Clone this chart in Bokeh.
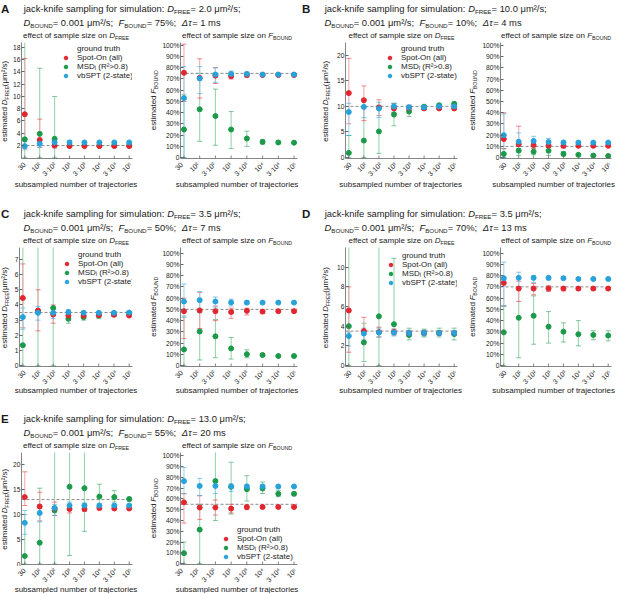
import math
from bokeh.plotting import figure
from bokeh.models import Range1d, FixedTicker, Span, Legend, LegendItem
from bokeh.layouts import row, column
from bokeh.embed import file_html
from bokeh.resources import INLINE
from bokeh.core.properties import value

FONT = "Liberation Sans"

# ---------------- data ----------------
CATS = ["30", "10²", "3·10²", "10³", "3·10³", "10⁴", "3·10⁴", "10⁵"]
XS = list(range(len(CATS)))

PANELS = ["A", "B", "C", "D", "E"]
D_FREE_TRUE = [2.0, 10.0, 3.5, 3.5, 13.0]
D_FREE_TXT = ["2.0", "10.0", "3.5", "3.5", "13.0"]
F_BOUND_TRUE = [75, 10, 50, 70, 55]
DT_MS = [1, 4, 7, 13, 20]

D_TICKS = {"A": [2, 4, 6, 8, 10, 12, 14, 16, 18], "B": [0, 5, 10, 15, 20],
           "C": [0, 1, 2, 3, 4, 5, 6, 7], "D": [0, 2, 4, 6, 8, 10], "E": [0, 5, 10, 15, 20]}
D_RANGE = {"A": (-0.12, 18.8), "B": (-0.2, 22.5), "C": (-0.05, 7.78), "D": (-0.1, 12.0), "E": (-0.1, 22.5)}
F_TICKS = [0, 10, 20, 30, 40, 50, 60, 70, 80, 90, 100]
F_TICK_LABELS = ["0", "10%", "20%", "30%", "40%", "50%", "60%", "70%", "80%", "90%", "100%"]
F_RANGE = {"A": (-0.8, 102.5), "B": (-0.8, 102.6), "C": (-0.8, 105), "D": (-0.8, 105), "E": (-0.8, 103)}

# Panel A
A_D_SPOT = [7.1, 2.9, 2.0, 1.9, 1.9, 1.9, 1.9, 1.9]
A_D_SPOT_LO = [1.5, 1.7, 1.6, 1.7, 1.8, 1.8, 1.85, 1.85]
A_D_SPOT_HI = [16.2, 6.3, 2.6, 2.1, 2.0, 2.0, 1.95, 1.95]
A_D_MSD = [3.0, 3.9, 3.1, 2.0, 2.0, 2.0, 2.0, 2.0]
A_D_MSD_LO = [0, 0, 0, 1.8, 1.9, 1.9, 1.95, 1.95]
A_D_MSD_HI = [60, 14.6, 10.0, 2.3, 2.1, 2.05, 2.05, 2.05]
A_D_VB = [1.9, 2.3, 2.5, 2.5, 2.5, 2.5, 2.5, 2.5]
A_D_VB_LO = [1.3, 1.7, 2.0, 2.2, 2.35, 2.4, 2.45, 2.45]
A_D_VB_HI = [2.6, 2.9, 2.9, 2.8, 2.65, 2.6, 2.55, 2.55]

A_F_SPOT = [75.5, 71, 73, 72.5, 73.5, 73.5, 73.5, 73.5]
A_F_SPOT_LO = [50, 53, 66, 70, 71.5, 72.5, 73, 73]
A_F_SPOT_HI = [101, 88, 80, 76, 76, 75, 74.5, 74.5]
A_F_MSD = [25, 43, 37, 25, 17, 14, 13.5, 13.3]
A_F_MSD_LO = [0, 14.5, 11, 8, 10, 12, 12.5, 12.8]
A_F_MSD_HI = [56, 75, 61, 41, 23.5, 16, 14.5, 14]
A_F_VB = [53, 70.5, 74, 74.5, 74.5, 74, 74, 74]
A_F_VB_LO = [0, 57, 67, 72, 72.5, 73, 73.5, 73.5]
A_F_VB_HI = [81, 81, 80, 77, 76, 75, 74.5, 74.5]

# Panel B
B_D_SPOT = [12.6, 11.2, 9.8, 9.6, 9.7, 9.6, 9.6, 9.6]
B_D_SPOT_LO = [6.6, 7.2, 8.2, 8.8, 9.2, 9.3, 9.4, 9.4]
B_D_SPOT_HI = [19.4, 14.0, 11.3, 10.5, 10.2, 10.0, 9.8, 9.8]
B_D_MSD = [0.9, 3.3, 5.1, 8.4, 9.0, 9.9, 10.2, 10.5]
B_D_MSD_LO = [0, 0, 0.8, 6.2, 8.0, 9.4, 9.8, 10.2]
B_D_MSD_HI = [4.3, 9.8, 10.2, 10.6, 10.0, 10.4, 10.6, 10.8]
B_D_VB = [8.9, 9.9, 9.6, 10.0, 9.8, 9.8, 10.0, 10.0]
B_D_VB_LO = [4.3, 7.8, 7.8, 8.9, 9.3, 9.4, 9.6, 9.7]
B_D_VB_HI = [10.6, 11.5, 10.8, 10.6, 10.3, 10.2, 10.3, 10.3]

B_F_SPOT = [16.6, 12.0, 11.2, 10.8, 10.5, 10.5, 10.5, 10.5]
B_F_SPOT_LO = [8, 6, 8, 9, 8.5, 9.5, 9.8, 9.8]
B_F_SPOT_HI = [40, 28, 15, 13, 12.5, 11.5, 11.2, 11.2]
B_F_MSD = [3.3, 6.2, 5.3, 6.2, 3.3, 2.5, 1.8, 1.5]
B_F_MSD_LO = [0, 2, 2.5, 2, 1.5, 1.5, 1.2, 1.0]
B_F_MSD_HI = [8, 10, 8.5, 9, 5.5, 3.5, 2.5, 2.0]
B_F_VB = [20, 14.2, 14.8, 13.9, 13.5, 13.4, 13.4, 13.4]
B_F_VB_LO = [0, 8, 10, 11, 12, 12.5, 12.8, 13]
B_F_VB_HI = [39, 22, 19, 17, 15, 14.5, 14, 14]

# Panel C
C_D_SPOT = [4.46, 3.63, 3.37, 3.3, 3.3, 3.33, 3.35, 3.3]
C_D_SPOT_LO = [2.5, 2.3, 2.8, 3.0, 3.1, 3.2, 3.25, 3.25]
C_D_SPOT_HI = [6.7, 5.0, 4.0, 3.6, 3.5, 3.45, 3.45, 3.4]
C_D_MSD = [1.35, 3.6, 3.8, 3.09, 3.2, 3.3, 3.4, 3.45]
C_D_MSD_LO = [0, 0, 0, 2.8, 3.0, 3.1, 3.25, 3.35]
C_D_MSD_HI = [20, 20, 20, 3.5, 3.5, 3.5, 3.55, 3.55]
C_D_VB = [3.2, 3.48, 3.48, 3.52, 3.48, 3.48, 3.48, 3.5]
C_D_VB_LO = [2.4, 3.0, 3.1, 3.3, 3.35, 3.4, 3.42, 3.45]
C_D_VB_HI = [3.8, 3.9, 3.8, 3.7, 3.6, 3.56, 3.54, 3.55]

C_F_SPOT = [48.4, 49, 48.4, 47.6, 48.7, 48, 48.4, 48.4]
C_F_SPOT_LO = [24, 33, 40, 42, 45, 46.5, 47.5, 47.5]
C_F_SPOT_HI = [60, 65, 53, 51, 51, 49.5, 49.2, 49.2]
C_F_MSD = [14.4, 30.3, 26, 15.3, 10.1, 9.4, 8.5, 8.5]
C_F_MSD_LO = [0, 5, 7, 5.8, 7, 8.5, 8, 8]
C_F_MSD_HI = [44, 50, 41, 25, 14, 10.5, 9, 9]
C_F_VB = [57, 58.2, 57, 56.2, 56, 56, 56, 56]
C_F_VB_LO = [43, 47, 52, 53, 54.5, 55.2, 55.5, 55.5]
C_F_VB_HI = [72.5, 66, 61, 59, 57.5, 57, 56.5, 56.5]

# Panel D
D_D_SPOT = [5.6, 3.5, 3.4, 3.4, 3.3, 3.3, 3.3, 3.3]
D_D_SPOT_LO = [1.35, 2.3, 2.9, 3.1, 3.1, 3.1, 3.15, 3.15]
D_D_SPOT_HI = [8.0, 4.9, 3.9, 3.7, 3.5, 3.5, 3.45, 3.45]
D_D_MSD = [4.0, 2.35, 5.0, 4.2, 3.1, 3.3, 3.3, 3.2]
D_D_MSD_LO = [0, 0.4, 0, 3.2, 2.6, 2.9, 2.9, 2.6]
D_D_MSD_HI = [30, 4.3, 30, 10.9, 3.8, 3.7, 3.8, 3.8]
D_D_VB = [3.0, 3.25, 3.35, 3.35, 3.3, 3.3, 3.3, 3.3]
D_D_VB_LO = [2.0, 2.6, 2.9, 3.0, 3.0, 3.0, 3.05, 3.05]
D_D_VB_HI = [3.4, 3.8, 3.8, 3.7, 3.6, 3.6, 3.55, 3.55]

D_F_SPOT = [73.5, 68.5, 68.5, 68.5, 68.5, 68.5, 68.5, 68.5]
D_F_SPOT_LO = [53, 57, 63, 66, 66.5, 67, 67.3, 67.3]
D_F_SPOT_HI = [76, 75, 73, 71, 70, 69.5, 69.2, 69.2]
D_F_MSD = [29.6, 42.5, 44.3, 34.6, 30.2, 27.9, 27.3, 26.7]
D_F_MSD_LO = [0, 7, 19, 20, 21, 17.5, 23, 22]
D_F_MSD_HI = [53, 68, 62, 48, 38, 40, 31, 31]
D_F_VB = [77.7, 78, 78, 78, 77.7, 77, 77, 77]
D_F_VB_LO = [53, 69, 74, 76, 76.5, 76.5, 76.5, 76.5]
D_F_VB_HI = [92, 83, 80, 79.5, 79, 78, 77.5, 77.5]

# Panel E
E_D_SPOT = [13.5, 11.6, 11.2, 11.1, 11.1, 11.3, 11.2, 11.2]
E_D_SPOT_LO = [11.8, 8.7, 9.8, 10.3, 10.6, 10.9, 11.0, 11.0]
E_D_SPOT_HI = [18.6, 14.5, 12.5, 11.8, 11.6, 11.6, 11.4, 11.4]
E_D_MSD = [1.6, 4.3, 10.8, 15.6, 15.3, 13.6, 13.5, 13.1]
E_D_MSD_LO = [0, 0, 0, 1.7, 6.6, 11.5, 12.5, 12.7]
E_D_MSD_HI = [10, 15.3, 40, 40, 40, 16.1, 14.8, 13.5]
E_D_VB = [8.3, 10.3, 11.3, 11.8, 11.8, 11.8, 11.8, 11.8]
E_D_VB_LO = [6.0, 8.5, 9.8, 11.0, 11.3, 11.5, 11.6, 11.6]
E_D_VB_HI = [10.8, 12.0, 12.0, 12.5, 12.3, 12.1, 12.0, 12.0]

E_F_SPOT = [56.8, 52, 52, 51, 52.4, 52.5, 52.5, 52.5]
E_F_SPOT_LO = [37.6, 41, 45, 47, 50, 51, 51.5, 51.8]
E_F_SPOT_HI = [65, 63, 59, 55, 54.5, 54, 53.5, 53.2]
E_F_MSD = [9.7, 31.5, 76.5, 71.2, 69, 69.7, 64.7, 64.7]
E_F_MSD_LO = [0, 0, 40, 46, 58, 65, 62, 63]
E_F_MSD_HI = [20, 55, 120, 94, 81.5, 75.6, 68, 66]
E_F_VB = [76.5, 72, 72, 71.5, 71.5, 71.5, 71.5, 71.5]
E_F_VB_LO = [64.7, 63, 65, 67, 69, 70, 70.5, 70.8]
E_F_VB_HI = [89, 79, 78, 74, 73.5, 73, 72.5, 72.2]

G = globals()
def series(panel, q, s):
    return (G[f"{panel}_{q}_{s}"], G[f"{panel}_{q}_{s}_LO"], G[f"{panel}_{q}_{s}_HI"])

SERIES_NAMES = ["Spot-On (all)", "MSDᵢ (R²>0.8)", "vbSPT (2-state)"]
SERIES_KEYS = ["SPOT", "MSD", "VB"]
COL = {"SPOT": "#e2262f", "MSD": "#1b9a4a", "VB": "#27a2da"}
COL_L = {"SPOT": "#f2a2a8", "MSD": "#8fd1a5", "VB": "#98d3ef"}
GT_COL = "#8a8a8a"
AX_COL = "#666666"
TXT = "#1a1a1a"

# ---------------- text helpers ----------------
AW = {' ': 278, '%': 889, '(': 333, ')': 333, ',': 278, '-': 333, '.': 278, '/': 278, ':': 278, ';': 278,
      '<': 584, '=': 584, '>': 584, 'μ': 576, '²': 333, '³': 333, '⁴': 360, '⁵': 360, '·': 278, 'Δ': 668, 'τ': 480}
for ch in "0123456789":
    AW[ch] = 556
AW.update(dict(zip("ABCDEFGHIJKLMNOPQRSTUVWXYZ",
                   [667, 667, 722, 722, 667, 611, 778, 722, 278, 500, 667, 556, 833, 722, 778, 667, 778, 722, 667, 611, 722, 667, 944, 667, 667, 611])))
AW.update(dict(zip("abcdefghijklmnopqrstuvwxyz",
                   [556, 556, 500, 556, 556, 278, 556, 556, 222, 222, 500, 222, 833, 556, 556, 556, 556, 333, 500, 278, 556, 500, 722, 500, 500, 500])))
MID = 0.3465  # centre of the text box above the baseline, in em

def tw(s, size):
    return sum(AW.get(c, 556) for c in s) / 1000.0 * size

def rich(spec, size):
    out = []
    x = 0.0
    for t, k in spec:
        if k == "s":
            fs, st = size * 0.66, "normal"
            off = size * 0.2 + MID * size - MID * fs
        elif k == "i":
            fs, st, off = size, "italic", 0.0
        else:
            fs, st, off = size, "normal", 0.0
        w = tw(t, fs)
        out.append((t, x, off, fs, st, w))
        x += w
    return out, x

def draw_rich_h(p, spec, size, x0, cy):
    parts, w = rich(spec, size)
    for t, dx, off, fs, st, pw in parts:
        p.text(x=[x0 + dx + pw / 2.0], y=[cy + off], text=[t], text_font=value(FONT),
               text_font_size=value(f"{fs:.2f}px"), text_font_style=value(st),
               text_baseline="middle", text_align="center", text_color=TXT)
    return w

def draw_rich_v(p, spec, size, cx, cy):
    parts, w = rich(spec, size)
    y0 = cy - w / 2.0
    for t, dx, off, fs, st, pw in parts:
        p.text(x=[cx + off], y=[y0 + dx + pw / 2.0], text=[t], angle=math.pi / 2, text_font=value(FONT),
               text_font_size=value(f"{fs:.2f}px"), text_font_style=value(st),
               text_baseline="middle", text_align="center", text_color=TXT)

def canvas(w, h, flip=True, xr=None):
    c = figure(width=w, height=h, x_range=xr if xr is not None else Range1d(0, w),
               y_range=Range1d(h, 0) if flip else Range1d(0, h),
               x_axis_type=None, y_axis_type=None, toolbar_location=None, output_backend="svg", min_border=0)
    c.outline_line_color = None
    return c

# ---------------- geometry (px) ----------------
COL_W = [301, 315]
HEAD_H = 41
PH = [119, 122, 115]
FOOT_H = [45, 42, 27]
XLAB_OFF = [24, 22, 22.5]
BT = 1
BB = 2
X0, X1 = -0.22, 7.22
GEO = {0: dict(s1=10, W1=135, bl1=9, br1=13, s2=14, W2=142, bl2=17, br2=4, c1=4.4, c2=8.4),
       1: dict(s1=31, W1=131, bl1=13, br1=6, s2=15, W2=138, bl2=22, br2=5, c1=24.0, c2=9.0)}
LEG_POS = {"A": ("D", 36, 1), "B": ("D", 36, 1), "C": ("D", 39, 2), "D": ("D", 37, 3), "E": ("F", 37, 72)}

TITLE_FS = 9.4
SUB_FS = 8.0
AX_FS = 8.0
YTICK_FS = "6.7px"
XTICK_FS = 6.9
LEG_FS = "8px"


def make_plot(panel, q, W, H, bl, br):
    yr = D_RANGE[panel] if q == "D" else F_RANGE[panel]
    p = figure(width=W, height=H, x_range=Range1d(X0, X1), y_range=Range1d(*yr),
               toolbar_location=None, output_backend="svg",
               min_border_left=bl, min_border_right=br, min_border_top=BT, min_border_bottom=BB)
    p.outline_line_color = None
    p.grid.visible = False

    idx = PANELS.index(panel)
    truth = D_FREE_TRUE[idx] if q == "D" else F_BOUND_TRUE[idx]
    p.add_layout(Span(location=truth, dimension="width", line_color=GT_COL, line_dash="3 2",
                      line_width=1, level="underlay"))

    order = ["MSD", "SPOT", "VB"]
    for s in order:
        m, lo, hi = series(panel, q, s)
        p.segment(x0=XS, y0=lo, x1=XS, y1=hi, line_color=COL_L[s], line_width=1.1, line_alpha=0.9)
        p.scatter(x=XS, y=lo, marker="dash", size=5, line_color=COL[s], line_alpha=0.55, line_width=1)
        p.scatter(x=XS, y=hi, marker="dash", size=5, line_color=COL[s], line_alpha=0.55, line_width=1)
    pts = {}
    for s in order:
        m, lo, hi = series(panel, q, s)
        pts[s] = p.scatter(x=XS, y=m, marker="circle", size=5, fill_color=COL[s], line_color=COL[s])

    # x axis line from bokeh; inward category ticks as half-clipped marks on the frame edge
    p.xaxis.ticker = FixedTicker(ticks=[])
    p.scatter(x=XS, y=[yr[0]] * len(XS), marker="dash", angle=math.pi / 2, size=6,
              line_color=AX_COL, line_width=0.8)
    if q == "D":
        p.yaxis.ticker = FixedTicker(ticks=D_TICKS[panel])
    else:
        p.yaxis.ticker = FixedTicker(ticks=F_TICKS)
        p.yaxis.major_label_overrides = {t: l for t, l in zip(F_TICKS, F_TICK_LABELS)}
    for ax in p.axis:
        ax.axis_line_color = AX_COL
        ax.axis_line_width = 0.8
        ax.major_tick_line_color = AX_COL
        ax.major_tick_in = 3
        ax.major_tick_out = 0
        ax.minor_tick_line_color = None
        ax.major_label_text_font = FONT
        ax.major_label_text_color = TXT
        ax.major_label_standoff = 1
    p.yaxis.major_label_text_font_size = YTICK_FS

    fh = H - BT - BB
    lq, lx, ltop = LEG_POS[panel]
    if lq == q:
        gt = p.line(x=[], y=[], line_color=GT_COL, line_dash="3 2", line_width=1)
        items = [LegendItem(label="ground truth", renderers=[gt])]
        for s, nm in zip(SERIES_KEYS, SERIES_NAMES):
            items.append(LegendItem(label=nm, renderers=[pts[s]]))
        est_h = 37
        ly = max(1, fh - ltop - est_h)
        leg = Legend(items=items, location=(lx, ly), label_text_font=FONT, label_text_font_size=LEG_FS,
                     label_text_color=TXT, glyph_width=17, glyph_height=9, label_height=9,
                     label_standoff=3, spacing=0, padding=0, margin=0,
                     border_line_color=None, background_fill_alpha=0)
        p.add_layout(leg)
    return p


def make_footer(wf, fl, fr, fhgt, xoff):
    """tick labels and x-axis label below a plot; the x range reproduces the plot's own x scale"""
    k = (fr - fl) / (X1 - X0)
    xr = Range1d(X0 - fl / k, X1 + (wf - fr) / k)
    f = canvas(wf, fhgt, flip=False, xr=xr)
    Ls = [tw(c, XTICK_FS) for c in CATS]
    cx = [x + (1.5 - 0.354 * L) / k for x, L in zip(XS, Ls)]
    cy = [fhgt - 3.0 - 0.354 * L for L in Ls]
    f.text(x=cx, y=cy, text=CATS, angle=math.pi / 4, text_font=value(FONT),
           text_font_size=value(f"{XTICK_FS}px"), text_align="center", text_baseline="middle", text_color=TXT)
    lab = "subsampled number of trajectories"
    half = tw(lab, AX_FS) / 2.0
    cpx = min((fl + fr) / 2.0, wf - half - 1.5)
    f.text(x=[X0 + (cpx - fl) / k], y=[fhgt - xoff], text=[lab],
           text_font=value(FONT), text_font_size=value(f"{AX_FS}px"), text_align="center",
           text_baseline="middle", text_color=TXT)
    return f


def make_panel(idx, ci, ri):
    panel = PANELS[idx]
    W = COL_W[ci]
    g = GEO[ci]
    ph = PH[ri]
    fh = ph - BT - BB

    c1 = g["s1"] + g["bl1"] + (g["W1"] - g["bl1"] - g["br1"]) / 2.0
    c2 = g["s1"] + g["W1"] + g["s2"] + g["bl2"] + (g["W2"] - g["bl2"] - g["br2"]) / 2.0

    hd = canvas(W, HEAD_H)
    hd.text(x=[0.5], y=[8.0], text=[panel], text_font=value(FONT), text_font_size=value("11.5px"),
            text_font_style=value("bold"), text_baseline="middle", text_align="left", text_color=TXT)
    x0 = 23.0
    line1 = [("jack-knife sampling for simulation: ", "n"), ("D", "i"), ("FREE", "s"),
             (f" = {D_FREE_TXT[idx]} μm²/s;", "n")]
    line2 = [("D", "i"), ("BOUND", "s"), (" = 0.001 μm²/s; ", "n"), ("F", "i"), ("BOUND", "s"),
             (f" = {F_BOUND_TRUE[idx]}%; ", "n"), ("Δτ", "i"), (f" = {DT_MS[idx]} ms", "n")]
    draw_rich_h(hd, line1, TITLE_FS, x0, 8.0)
    draw_rich_h(hd, line2, TITLE_FS, x0, 22.0)
    sub_d = [("effect of sample size on ", "n"), ("D", "i"), ("FREE", "s")]
    sub_f = [("effect of sample size on ", "n"), ("F", "i"), ("BOUND", "s")]
    _, wd = rich(sub_d, SUB_FS)
    _, wf = rich(sub_f, SUB_FS)
    draw_rich_h(hd, sub_d, SUB_FS, c1 - wd / 2.0, 35.0)
    draw_rich_h(hd, sub_f, SUB_FS, c2 - wf / 2.0, 35.0)

    cy = BB + fh / 2.0
    st1 = canvas(g["s1"], ph, flip=False)
    draw_rich_v(st1, [("estimated ", "n"), ("D", "i"), ("FREE", "s"), (" (μm²/s)", "n")], AX_FS, g["c1"], cy)
    st2 = canvas(g["s2"], ph, flip=False)
    draw_rich_v(st2, [("estimated ", "n"), ("F", "i"), ("BOUND", "s")], AX_FS, g["c2"], cy)

    pd = make_plot(panel, "D", g["W1"], ph, g["bl1"], g["br1"])
    pf = make_plot(panel, "F", g["W2"], ph, g["bl2"], g["br2"])

    f1 = make_footer(g["s1"] + g["W1"], g["s1"] + g["bl1"], g["s1"] + g["W1"] - g["br1"], FOOT_H[ri], XLAB_OFF[ri])
    f2 = make_footer(g["s2"] + g["W2"], g["s2"] + g["bl2"], g["s2"] + g["W2"] - g["br2"], FOOT_H[ri], XLAB_OFF[ri])

    return column(hd, row(st1, pd, st2, pf, spacing=0), row(f1, f2, spacing=0), spacing=0)


pA = make_panel(0, 0, 0)
pB = make_panel(1, 1, 0)
pC = make_panel(2, 0, 1)
pD = make_panel(3, 1, 1)
pE = make_panel(4, 0, 2)

layout = column(row(pA, pB, spacing=0), row(pC, pD, spacing=0), row(pE, spacing=0), spacing=0)

open("out.html", "w").write(file_html(layout, INLINE))
